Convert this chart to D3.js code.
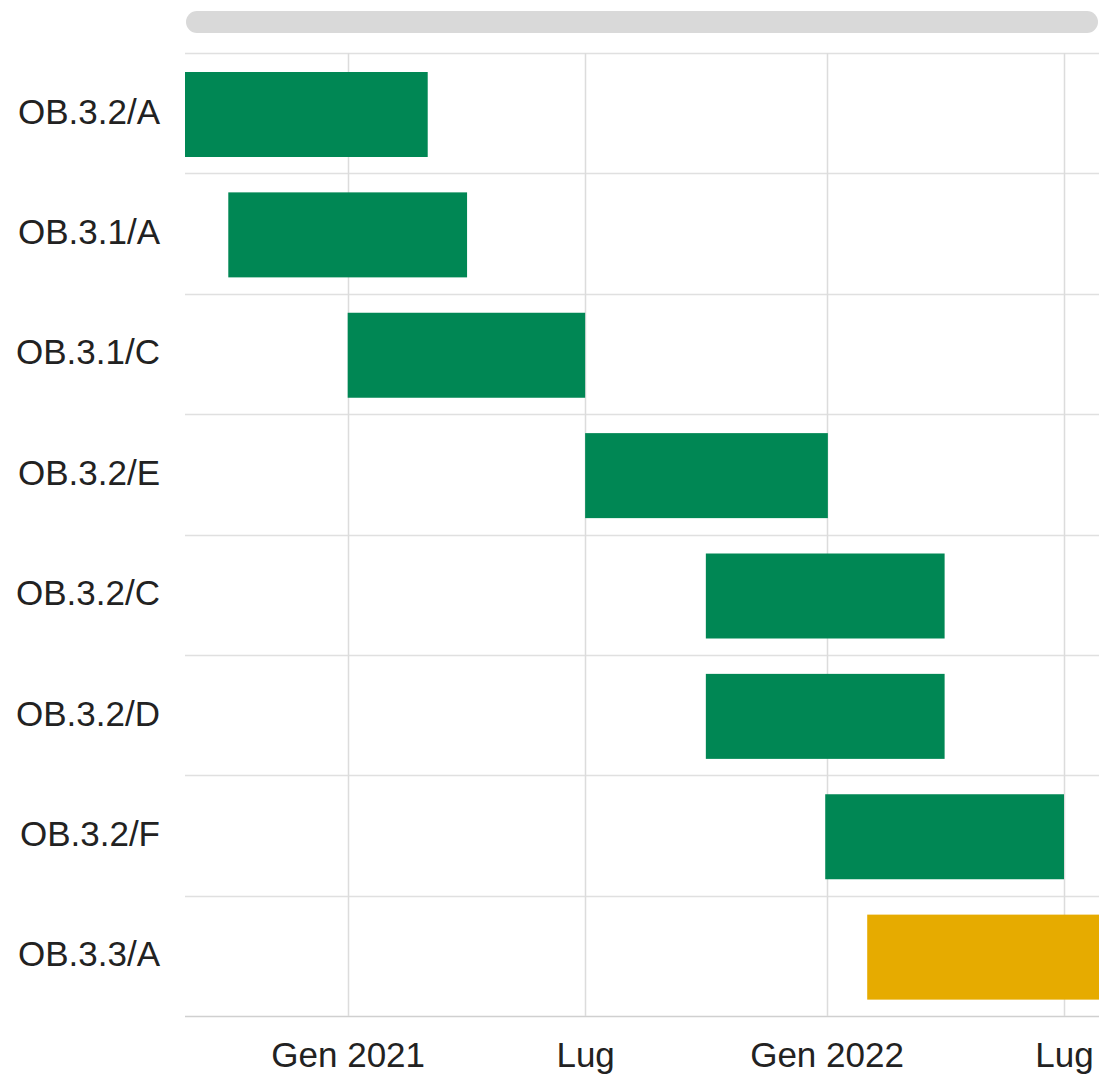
<!DOCTYPE html>
<html>
<head>
<meta charset="utf-8">
<script src="https://cdn.jsdelivr.net/npm/d3@7"></script>
<style>
  html, body { margin: 0; padding: 0; background: #fff; overflow: hidden; }
  svg { display: block; font-family: "Liberation Sans", Arial, sans-serif; }
</style>
</head>
<body>
<svg id="chart" width="1099" height="1077"></svg>
<script>
// ---- Data ----
const tasks = ["OB.3.2/A", "OB.3.1/A", "OB.3.1/C", "OB.3.2/E", "OB.3.2/C", "OB.3.2/D", "OB.3.2/F", "OB.3.3/A"];
const starts = ["2020-08-30", "2020-10-02", "2021-01-01", "2021-07-01", "2021-10-01", "2021-10-01", "2021-12-31", "2022-02-01"];
const ends   = ["2021-03-03", "2021-04-02", "2021-07-01", "2022-01-02", "2022-04-01", "2022-04-01", "2022-07-01", "2022-08-01"];
const groups = ["done", "done", "done", "done", "done", "done", "done", "current"];
const tickDates  = ["2021-01-01", "2021-07-01", "2022-01-01", "2022-07-01"];
const tickLabels = ["Gen 2021", "Lug", "Gen 2022", "Lug"];
const domainDates = ["2020-08-30", "2022-07-01"];

// ---- Layout ----
const svg = d3.select("#chart");
const W = 1099;
const mLeft = 185, mTop = 53, mBottom = 1016;
const parse = d3.utcParse("%Y-%m-%d");

const x = d3.scaleUtc()
  .domain(domainDates.map(parse))
  .range([mLeft, 1064]);

const y = d3.scaleBand()
  .domain(tasks)
  .range([mTop, mBottom])
  .paddingInner(0)
  .paddingOuter(0);

const color = d3.scaleOrdinal()
  .domain(["done", "current"])
  .range(["#008754", "#e6ab00"]);

// scrollbar
svg.append("rect")
  .attr("x", 186).attr("y", 11)
  .attr("width", W - 1 - 186).attr("height", 22)
  .attr("rx", 11).attr("ry", 11)
  .attr("fill", "#d9d9d9");

// horizontal row lines
svg.append("g")
  .selectAll("line")
  .data(tasks.concat(["__end"]))
  .join("line")
  .attr("x1", mLeft).attr("x2", W)
  .attr("y1", (d, i) => Math.round(mTop + i * y.bandwidth()) + 0.5)
  .attr("y2", (d, i) => Math.round(mTop + i * y.bandwidth()) + 0.5)
  .attr("stroke", (d, i) => i === tasks.length ? "#d0d0d0" : "#e0e0e0")
  .attr("stroke-width", 1.5);

// vertical grid lines
svg.append("g")
  .selectAll("line")
  .data(tickDates.map(parse))
  .join("line")
  .attr("x1", d => Math.round(x(d)) + 0.5)
  .attr("x2", d => Math.round(x(d)) + 0.5)
  .attr("y1", mTop).attr("y2", mBottom)
  .attr("stroke", "#dcdcdc")
  .attr("stroke-width", 1.5);

// bars
const barPadTop = 19, barH = 85;
svg.append("g")
  .selectAll("rect")
  .data(tasks.map((t, i) => ({ t, s: parse(starts[i]), e: parse(ends[i]), g: groups[i] })))
  .join("rect")
  .attr("x", d => x(d.s))
  .attr("width", d => x(d.e) - x(d.s))
  .attr("y", d => y(d.t) + barPadTop)
  .attr("height", barH)
  .attr("fill", d => color(d.g));

// y labels
svg.append("g")
  .selectAll("text")
  .data(tasks)
  .join("text")
  .attr("x", 160)
  .attr("y", d => y(d) + y.bandwidth() / 2 - 2)
  .attr("text-anchor", "end")
  .attr("dominant-baseline", "central")
  .attr("font-size", 35)
  .attr("fill", "#222")
  .text(d => d);

// x axis
const axis = d3.axisBottom(x)
  .tickValues(tickDates.map(parse))
  .tickFormat((d, i) => tickLabels[i])
  .tickSize(0)
  .tickPadding(26);

const gx = svg.append("g")
  .attr("transform", `translate(0,${mBottom})`)
  .call(axis);
gx.select(".domain").remove();
gx.selectAll("text")
  .attr("font-size", 35)
  .attr("font-family", "Liberation Sans, Arial, sans-serif")
  .attr("fill", "#222");
</script>
</body>
</html>
